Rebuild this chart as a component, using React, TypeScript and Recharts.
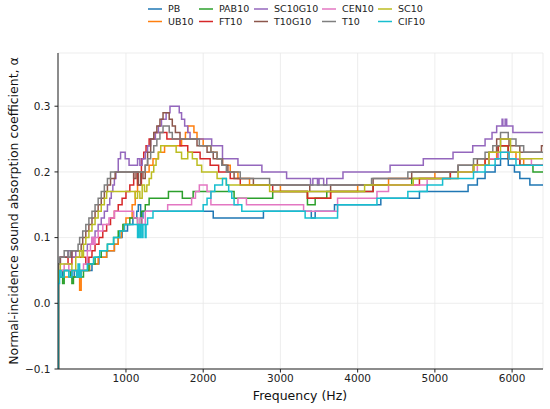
import React from 'react';
import { LineChart, Line, XAxis, YAxis, CartesianGrid } from 'recharts';

// step change points: [frequency Hz, absorption coefficient]
const PB = [
  [120, -0.1], [125, 0.04], [180, 0.05], [300, 0.04], [330, 0.05], [470, 0.05], [560, 0.06], [650, 0.07],
  [750, 0.08], [850, 0.09], [900, 0.1], [950, 0.11], [1020, 0.12], [1090, 0.13], [1140, 0.14], [1160, 0.15],
  [1190, 0.13], [1220, 0.14], [2130, 0.13], [2780, 0.14], [3400, 0.13], [3450, 0.14], [3700, 0.15],
  [4300, 0.16], [4800, 0.17], [5430, 0.18], [5550, 0.19], [5650, 0.2], [5780, 0.21], [5850, 0.22],
  [5950, 0.21], [6030, 0.2], [6100, 0.19], [6230, 0.18], [6400, 0.18],
];
const UB10 = [
  [120, -0.1], [125, 0.05], [200, 0.04], [380, 0.05], [400, 0.02], [420, 0.05], [530, 0.06], [640, 0.07],
  [750, 0.08], [850, 0.09], [900, 0.1], [940, 0.11], [970, 0.12], [1000, 0.13], [1080, 0.15], [1120, 0.17],
  [1150, 0.2], [1300, 0.21], [1350, 0.22], [1420, 0.23], [1500, 0.24], [1720, 0.25], [1770, 0.26],
  [1800, 0.27], [1880, 0.26], [1920, 0.25], [2000, 0.24], [2100, 0.23], [2180, 0.22], [2250, 0.21],
  [2350, 0.2], [2450, 0.19], [2600, 0.18], [3000, 0.17], [3350, 0.16], [3650, 0.17], [4000, 0.18],
  [4400, 0.19], [5000, 0.2], [5500, 0.21], [5650, 0.22], [5800, 0.24], [5950, 0.23], [6050, 0.22],
  [6150, 0.21], [6400, 0.21],
];
const PAB10 = [
  [120, -0.1], [125, 0.04], [180, 0.03], [200, 0.05], [280, 0.04], [300, 0.03], [320, 0.04], [450, 0.05],
  [520, 0.06], [600, 0.07], [680, 0.08], [760, 0.09], [840, 0.1], [900, 0.11], [960, 0.12], [1050, 0.13],
  [1150, 0.12], [1200, 0.14], [1250, 0.15], [1300, 0.16], [1550, 0.17], [1730, 0.16], [1870, 0.17],
  [2400, 0.16], [2900, 0.17], [3350, 0.15], [3450, 0.16], [3600, 0.17], [4200, 0.18], [4700, 0.19],
  [5200, 0.2], [5500, 0.21], [5700, 0.22], [5820, 0.24], [5950, 0.22], [6100, 0.21], [6270, 0.2], [6400, 0.2],
];
const FT10 = [
  [120, -0.1], [125, 0.06], [150, 0.07], [250, 0.06], [300, 0.07], [480, 0.06], [520, 0.07], [560, 0.08],
  [600, 0.09], [650, 0.1], [700, 0.11], [750, 0.12], [800, 0.13], [850, 0.14], [900, 0.15], [950, 0.16],
  [1000, 0.17], [1050, 0.18], [1100, 0.2], [1150, 0.18], [1200, 0.22], [1230, 0.23], [1260, 0.24],
  [1300, 0.25], [1380, 0.26], [1530, 0.25], [1700, 0.24], [1800, 0.23], [1960, 0.22], [2090, 0.21],
  [2200, 0.2], [2350, 0.19], [2480, 0.18], [2900, 0.17], [3350, 0.16], [3650, 0.17], [4200, 0.18],
  [4800, 0.19], [5200, 0.2], [5500, 0.21], [5650, 0.22], [5820, 0.24], [5950, 0.22], [6100, 0.21], [6400, 0.21],
];
const SC10G10 = [
  [120, -0.1], [125, 0.06], [150, 0.07], [250, 0.08], [300, 0.07], [350, 0.08], [500, 0.09], [560, 0.1],
  [600, 0.11], [640, 0.12], [680, 0.13], [720, 0.14], [760, 0.15], [790, 0.16], [810, 0.17], [830, 0.18],
  [850, 0.19], [870, 0.2], [900, 0.22], [930, 0.23], [990, 0.22], [1040, 0.21], [1150, 0.22], [1180, 0.21],
  [1210, 0.22], [1250, 0.23], [1280, 0.24], [1320, 0.25], [1380, 0.26], [1420, 0.27], [1460, 0.28],
  [1520, 0.29], [1570, 0.3], [1690, 0.29], [1720, 0.28], [1760, 0.27], [1800, 0.26], [1830, 0.25],
  [2110, 0.24], [2250, 0.22], [2450, 0.21], [2760, 0.2], [3080, 0.19], [3390, 0.18], [3420, 0.19],
  [3480, 0.18], [3500, 0.19], [3560, 0.18], [3600, 0.19], [3810, 0.2], [4420, 0.21], [4850, 0.22],
  [5235, 0.23], [5490, 0.24], [5650, 0.25], [5740, 0.26], [5800, 0.27], [5870, 0.28], [5880, 0.27],
  [5910, 0.28], [5930, 0.27], [6010, 0.26], [6400, 0.26],
];
const T10G10 = [
  [120, -0.1], [125, 0.06], [150, 0.07], [300, 0.08], [420, 0.09], [440, 0.1], [480, 0.11], [520, 0.12],
  [560, 0.13], [600, 0.14], [640, 0.15], [680, 0.16], [720, 0.17], [760, 0.18], [800, 0.19], [860, 0.2],
  [1100, 0.19], [1130, 0.2], [1160, 0.18], [1190, 0.2], [1220, 0.19], [1250, 0.21], [1280, 0.23],
  [1320, 0.25], [1360, 0.26], [1400, 0.27], [1440, 0.28], [1480, 0.29], [1560, 0.28], [1600, 0.27],
  [1640, 0.26], [1700, 0.25], [1920, 0.24], [2050, 0.23], [2130, 0.22], [2250, 0.21], [2320, 0.2],
  [2400, 0.19], [2650, 0.18], [3380, 0.17], [3650, 0.18], [4200, 0.19], [4700, 0.2], [5300, 0.21],
  [5550, 0.22], [5700, 0.23], [5800, 0.25], [5960, 0.24], [6100, 0.23], [6380, 0.24], [6400, 0.24],
];
const CEN10 = [
  [120, -0.1], [125, 0.05], [200, 0.06], [260, 0.05], [450, 0.06], [500, 0.08], [540, 0.09], [560, 0.1],
  [580, 0.09], [600, 0.1], [640, 0.11], [700, 0.12], [780, 0.13], [850, 0.14], [1100, 0.13], [1150, 0.12],
  [1180, 0.13], [1210, 0.12], [1250, 0.14], [1540, 0.15], [1850, 0.16], [1900, 0.17], [1950, 0.18],
  [2050, 0.17], [2100, 0.15], [2450, 0.16], [2560, 0.15], [3300, 0.14], [3740, 0.16], [4250, 0.17],
  [4400, 0.18], [4900, 0.19], [5300, 0.2], [5550, 0.21], [5700, 0.22], [5820, 0.23], [5960, 0.22],
  [6250, 0.21], [6400, 0.21],
];
const T10 = [
  [120, -0.1], [125, 0.06], [140, 0.07], [200, 0.08], [250, 0.07], [280, 0.08], [380, 0.09], [400, 0.1],
  [440, 0.11], [480, 0.12], [520, 0.13], [560, 0.14], [600, 0.15], [640, 0.16], [680, 0.17], [720, 0.18],
  [760, 0.19], [800, 0.2], [1250, 0.21], [1280, 0.22], [1320, 0.23], [1360, 0.24], [1400, 0.25],
  [1440, 0.26], [1480, 0.27], [1560, 0.26], [1600, 0.25], [1950, 0.24], [2100, 0.23], [2180, 0.22],
  [2240, 0.21], [2300, 0.2], [2480, 0.19], [2860, 0.18], [4180, 0.19], [4650, 0.2], [5300, 0.21],
  [5500, 0.22], [5650, 0.23], [5750, 0.24], [5850, 0.26], [5950, 0.25], [6050, 0.24], [6150, 0.23], [6400, 0.23],
];
const SC10 = [
  [120, -0.1], [125, 0.05], [150, 0.06], [300, 0.05], [350, 0.07], [400, 0.08], [430, 0.07], [450, 0.09],
  [480, 0.1], [520, 0.11], [560, 0.12], [600, 0.13], [640, 0.14], [680, 0.15], [720, 0.16], [750, 0.17],
  [1120, 0.16], [1150, 0.17], [1180, 0.16], [1210, 0.18], [1240, 0.17], [1270, 0.18], [1300, 0.19],
  [1330, 0.2], [1360, 0.21], [1390, 0.22], [1420, 0.23], [1450, 0.24], [1650, 0.23], [1720, 0.22],
  [1800, 0.23], [1860, 0.22], [1920, 0.21], [1980, 0.2], [2180, 0.19], [2300, 0.18], [2860, 0.17],
  [4090, 0.18], [4720, 0.19], [5300, 0.2], [5500, 0.21], [5700, 0.23], [5850, 0.25], [5980, 0.23],
  [6100, 0.22], [6400, 0.22],
];
const CIF10 = [
  [120, -0.1], [125, 0.03], [140, 0.05], [160, 0.04], [200, 0.05], [260, 0.04], [300, 0.05], [360, 0.04],
  [380, 0.06], [400, 0.04], [420, 0.05], [500, 0.06], [580, 0.07], [660, 0.08], [760, 0.09], [840, 0.1],
  [920, 0.11], [980, 0.12], [1150, 0.1], [1160, 0.12], [1180, 0.1], [1190, 0.12], [1210, 0.1], [1220, 0.12],
  [1250, 0.1], [1260, 0.12], [1280, 0.13], [1350, 0.14], [2000, 0.15], [2050, 0.16], [2100, 0.17],
  [2150, 0.18], [2250, 0.19], [2300, 0.18], [2330, 0.17], [2370, 0.16], [2400, 0.15], [2500, 0.14],
  [3320, 0.13], [3740, 0.15], [4250, 0.16], [4650, 0.17], [4900, 0.18], [5100, 0.19], [5500, 0.2],
  [5650, 0.21], [5780, 0.22], [5850, 0.23], [5960, 0.22], [6050, 0.21], [6400, 0.21],
];

const NAMES = ['PB', 'UB10', 'PAB10', 'FT10', 'SC10G10', 'T10G10', 'CEN10', 'T10', 'SC10', 'CIF10'];
const VALUES = [PB, UB10, PAB10, FT10, SC10G10, T10G10, CEN10, T10, SC10, CIF10];
const COLORS = ['#1f77b4', '#ff7f0e', '#2ca02c', '#d62728', '#9467bd', '#8c564b', '#e377c2', '#7f7f7f', '#bcbd22', '#17becf'];

const X_TICKS = [1000, 2000, 3000, 4000, 5000, 6000];
const Y_TICKS = [-0.1, 0, 0.1, 0.2, 0.3];

const FONT = '"DejaVu Sans", sans-serif';

const fmtY = (v: number) => (v < 0 ? '\u2212' + Math.abs(v).toFixed(1) : v.toFixed(1));

// matplotlib ncol=5 fills column by column
const LEGEND_X = [148, 199, 254, 322, 378];

export default function App() {
  return (
    <div style={{ position: 'absolute', left: 0, top: 0, width: 550, height: 409, background: '#fff', fontFamily: FONT }}>
      <LineChart width={550} height={409} margin={{ top: 53, right: 7, left: 0, bottom: 0 }}>
        <CartesianGrid stroke="#e8e8e8" strokeWidth={0.8} />
        <XAxis
          type="number"
          dataKey="f"
          domain={[120, 6400]}
          ticks={X_TICKS}
          allowDataOverflow
          height={40}
          tickSize={3.5}
          tickMargin={2}
          tick={{ fill: '#222', fontSize: 10.5, fontFamily: FONT }}
          axisLine={{ stroke: '#222', strokeWidth: 1 }}
          tickLine={{ stroke: '#222' }}
        />
        <YAxis
          type="number"
          domain={[-0.1, 0.381]}
          ticks={Y_TICKS}
          allowDataOverflow
          width={58}
          tickSize={3.5}
          tickMargin={4}
          tickFormatter={fmtY}
          tick={{ fill: '#222', fontSize: 10.5, fontFamily: FONT }}
          axisLine={{ stroke: '#222', strokeWidth: 1 }}
          tickLine={{ stroke: '#222' }}
        />
        {VALUES.map((s, i) => (
          <Line
            key={NAMES[i]}
            data={s.map(([f, a]) => ({ f, a }))}
            dataKey="a"
            name={NAMES[i]}
            type="stepAfter"
            stroke={COLORS[i]}
            strokeWidth={1.5}
            dot={false}
            activeDot={false}
            isAnimationActive={false}
          />
        ))}
      </LineChart>

      <svg width={550} height={409} style={{ position: 'absolute', left: 0, top: 0, pointerEvents: 'none' }}>
        {NAMES.map((n, i) => {
          const col = Math.floor(i / 2);
          const y = i % 2 === 0 ? 9 : 21.5;
          const x = LEGEND_X[col];
          return (
            <g key={n}>
              <line x1={x} x2={x + 14} y1={y} y2={y} stroke={COLORS[i]} strokeWidth={1.5} />
              <text x={x + 20} y={y} dy="0.35em" fontSize={9.5} fontFamily={FONT} fill="#222">{n}</text>
            </g>
          );
        })}
        <text x={300} y={400} textAnchor="middle" fontSize={12.5} fontFamily={FONT} fill="#111">Frequency (Hz)</text>
        <text
          x={0}
          y={0}
          transform="translate(18,211) rotate(-90)"
          textAnchor="middle"
          fontSize={12.5}
          fontFamily={FONT}
          fill="#111"
        >
          Normal-incidence sound absorption coefficient, α
        </text>
      </svg>
    </div>
  );
}
